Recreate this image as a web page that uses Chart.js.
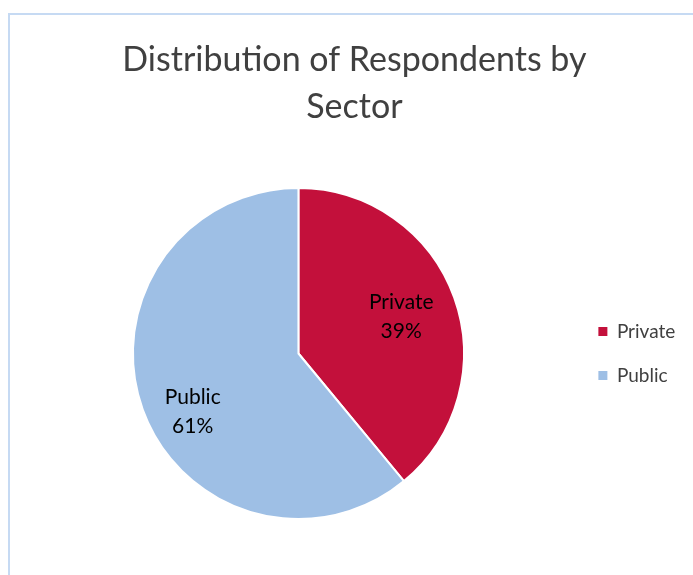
<!DOCTYPE html>
<html lang="en">
<head>
  <meta charset="UTF-8" />
  <title>Distribution of Respondents by Sector</title>
  <script src="https://cdn.jsdelivr.net/npm/chart.js"></script>
  <style>
    html, body {
      margin: 0;
      padding: 0;
      background: #fff;
      overflow: hidden;
    }
    .wrap {
      position: relative;
      width: 693px;
      height: 575px;
    }
    .frame {
      position: absolute;
      left: 8px;
      top: 13px;
      width: 720px;
      height: 600px;
      border-left: 2px solid #c6daf3;
      border-top: 2px solid #c6daf3;
    }
    canvas {
      position: absolute;
      left: 0;
      top: 0;
    }
  </style>
</head>
<body>
  <div class="wrap">
    <div class="frame"></div>
    <canvas id="chart"></canvas>
  </div>

  <script>
    // Data
    const sectors = ['Private', 'Public'];
    const shares = [39, 61];
    const sliceColors = ['#c3103b', '#9ebfe5'];

    // Draws "Label\nNN%" inside each slice, like Excel's inside data labels
    const sliceLabels = {
      id: 'sliceLabels',
      afterDatasetsDraw(chart, args, opts) {
        const ctx = chart.ctx;
        const meta = chart.getDatasetMeta(0);
        const values = chart.data.datasets[0].data;
        const total = values.reduce((a, b) => a + b, 0);
        ctx.save();
        ctx.font = opts.size + 'px ' + opts.family;
        ctx.fillStyle = opts.color;
        ctx.textAlign = 'center';
        ctx.textBaseline = 'middle';
        meta.data.forEach((arc, i) => {
          const p = arc.getProps(['x', 'y', 'startAngle', 'endAngle', 'outerRadius'], true);
          const mid = (p.startAngle + p.endAngle) / 2;
          const r = p.outerRadius * opts.radius;
          const nudge = opts.nudge[i] || [0, 0];
          const cx = p.x + Math.cos(mid) * r + nudge[0];
          const cy = p.y + Math.sin(mid) * r + nudge[1];
          const pct = Math.round(values[i] / total * 100) + '%';
          ctx.fillText(chart.data.labels[i], cx, cy - opts.lineHeight / 2);
          ctx.fillText(pct, cx, cy + opts.lineHeight / 2);
        });
        ctx.restore();
      }
    };

    const ctx = document.getElementById('chart').getContext('2d');
    new Chart(ctx, {
      type: 'pie',
      data: {
        labels: sectors,
        datasets: [{
          data: shares,
          backgroundColor: sliceColors,
          borderColor: '#ffffff',
          borderWidth: 2
        }]
      },
      options: {
        responsive: true,
        maintainAspectRatio: false,
        animation: false,
        layout: {
          padding: { left: 23.5, right: 7.7, top: 0, bottom: 55 }
        },
        plugins: {
          title: {
            display: true,
            text: ['Distribution of Respondents by', 'Sector'],
            color: '#404040',
            font: { family: 'Lato', size: 34, weight: 'normal', lineHeight: 47 / 34 },
            padding: { top: 36.5, bottom: 56.5 }
          },
          legend: {
            position: 'right',
            align: 'center',
            fullSize: false,
            labels: {
              color: '#404040',
              font: { family: 'Lato', size: 19 },
              boxWidth: 9,
              boxHeight: 9,
              padding: 25,
              generateLabels(chart) {
                return Chart.overrides.pie.plugins.legend.labels.generateLabels(chart)
                  .map(item => ({ ...item, lineWidth: 0 }));
              }
            }
          },
          tooltip: { enabled: false },
          sliceLabels: {
            family: 'Lato',
            size: 21,
            lineHeight: 29,
            color: '#000000',
            radius: 0.66,
            nudge: [[0, 0], [-3, 21]]
          }
        }
      },
      plugins: [sliceLabels]
    });
  </script>
</body>
</html>
